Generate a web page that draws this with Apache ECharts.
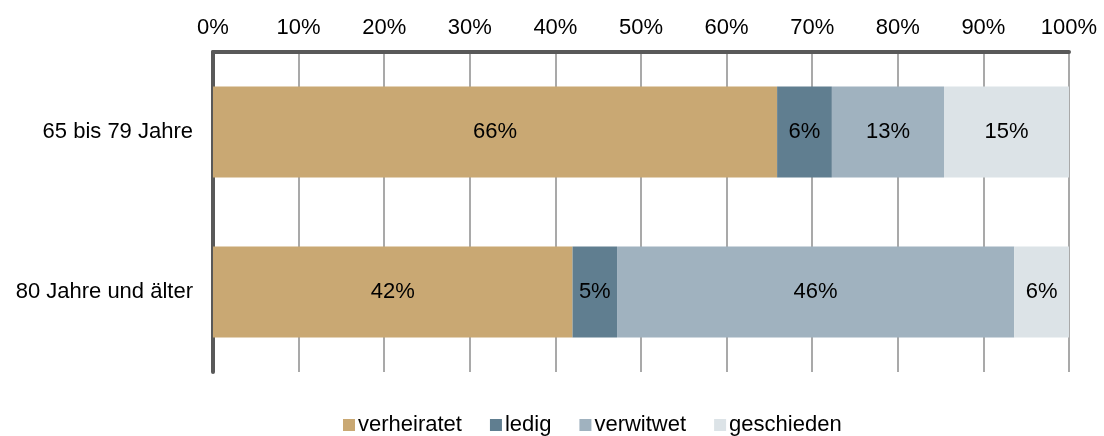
<!DOCTYPE html>
<html><head><meta charset="utf-8">
<script src="https://cdn.jsdelivr.net/npm/echarts@6/dist/echarts.min.js"></script>
<style>html,body{margin:0;padding:0;background:#fff}#c{width:1104px;height:436px}</style>
</head><body><div id="c"></div>
<script>
const categories = ['65 bis 79 Jahre', '80 Jahre und älter'];
const seriesNames = ['verheiratet', 'ledig', 'verwitwet', 'geschieden'];
const verheiratet = [65.9, 42.0];
const ledig = [6.4, 5.2];
const verwitwet = [13.1, 46.4];
const geschieden = [14.6, 6.4];
const colors = ['#C9A873', '#607E90', '#A0B2BF', '#DCE3E7'];
const values = [verheiratet, ledig, verwitwet, geschieden];
const font = 'Liberation Sans, Arial, sans-serif';
const fs = 22;

const chart = echarts.init(document.getElementById('c'));
chart.setOption({
  animation: false,
  textStyle: {fontFamily: font},
  grid: {left: 213, right: 35, top: 52, bottom: 64},
  legend: {
    left: 343, top: 414, itemWidth: 12, itemHeight: 12, itemGap: 28,
    icon: 'rect', padding: 0,
    textStyle: {fontFamily: font, fontSize: fs, color: '#000', padding: [0,0,0,-2]},
    data: seriesNames
  },
  xAxis: {
    type: 'value', position: 'top', min: 0, max: 100, interval: 10,
    axisLine: {show: true, lineStyle: {color: '#595959', width: 4}},
    axisTick: {show: false},
    axisLabel: {formatter: '{value}%', fontSize: fs, color: '#000', margin: 13, fontFamily: font},
    splitLine: {show: true, lineStyle: {color: '#8c8c8c', width: 1.5}}
  },
  yAxis: {
    type: 'category', data: categories, inverse: true,
    axisLine: {show: true, lineStyle: {color: '#595959', width: 4}},
    axisTick: {show: false},
    axisLabel: {fontSize: fs, color: '#000', margin: 20, fontFamily: font}
  },
  series: seriesNames.map((n, i) => ({
    name: n, type: 'bar', stack: 'total', data: values[i],
    barWidth: 91,
    itemStyle: {color: colors[i]},
    label: {show: true, position: 'inside', color: '#000', fontSize: fs, fontFamily: font,
      formatter: p => Math.round(p.value) + '%'}
  }))
});
</script></body></html>
